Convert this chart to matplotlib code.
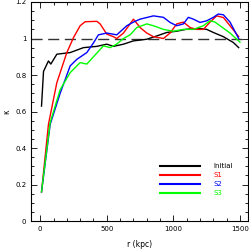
import matplotlib
matplotlib.use('Agg')
import matplotlib.pyplot as plt
from matplotlib.ticker import MultipleLocator

# radius (kpc) and kappa values
r_init = [10, 25, 62, 80, 125, 225, 325, 425, 500, 550, 625, 700, 800, 875, 950, 1025, 1100, 1200, 1250, 1300, 1375, 1450, 1490]
k_init = [0.63, 0.82, 0.877, 0.86, 0.914, 0.923, 0.95, 0.957, 0.969, 0.957, 0.969, 0.987, 0.996, 1.014, 1.033, 1.04, 1.051, 1.055, 1.05, 1.033, 1.01, 0.978, 0.95]

r_s1 = [10, 62, 125, 200, 250, 300, 337, 425, 450, 500, 550, 575, 625, 675, 700, 750, 800, 850, 925, 975, 1025, 1075, 1125, 1175, 1225, 1275, 1325, 1375, 1425, 1490]
k_s1 = [0.16, 0.53, 0.758, 0.923, 1.005, 1.07, 1.092, 1.094, 1.08, 1.024, 1.01, 1.0, 1.03, 1.08, 1.106, 1.06, 1.03, 1.01, 1.0, 1.03, 1.08, 1.09, 1.06, 1.05, 1.05, 1.09, 1.124, 1.115, 1.07, 1.01]

r_s2 = [10, 75, 150, 225, 275, 350, 400, 437, 500, 575, 650, 700, 750, 850, 925, 975, 1025, 1075, 1112, 1150, 1200, 1250, 1300, 1337, 1375, 1425, 1490]
k_s2 = [0.16, 0.53, 0.70, 0.85, 0.886, 0.923, 0.976, 1.02, 1.03, 1.02, 1.07, 1.09, 1.106, 1.124, 1.116, 1.088, 1.07, 1.08, 1.116, 1.106, 1.088, 1.097, 1.116, 1.134, 1.13, 1.09, 1.0]

r_s3 = [10, 75, 150, 225, 300, 350, 400, 475, 525, 575, 625, 675, 725, 800, 850, 925, 1000, 1075, 1150, 1225, 1275, 1312, 1350, 1425, 1500]
k_s3 = [0.16, 0.54, 0.72, 0.813, 0.868, 0.86, 0.9, 0.96, 0.95, 0.97, 1.0, 1.02, 1.06, 1.08, 1.07, 1.05, 1.04, 1.05, 1.05, 1.07, 1.097, 1.09, 1.07, 1.03, 0.98]

fig = plt.figure(figsize=(2.49, 2.49), dpi=100)
ax = fig.add_axes([0.125, 0.112, 0.871, 0.880])

ax.axhline(1.0, color='#333333', lw=1.0, ls=(0, (8, 4)))
ax.plot(r_init, k_init, color='black', lw=1.0)
ax.plot(r_s1, k_s1, color='#ff0000', lw=1.0)
ax.plot(r_s2, k_s2, color='#0000ff', lw=1.0)
ax.plot(r_s3, k_s3, color='#00ff00', lw=1.0)

# legend drawn by hand like the IDL style
labels = ['Initial', 'S1', 'S2', 'S3']
colors = ['black', '#ff0000', '#0000ff', '#00ff00']
for i in range(4):
    yy = 0.251 - i * 0.041
    ax.plot([0.594, 0.78], [yy, yy], transform=ax.transAxes, color=colors[i], lw=1.5)
    ax.text(0.84, yy, labels[i], transform=ax.transAxes, color=colors[i],
            fontsize=5, va='center', ha='left')

ax.set_xlim(-68, 1560)
ax.set_ylim(0, 1.2)
ax.set_xticks([0, 500, 1000, 1500])
ax.set_yticks([0, 0.2, 0.4, 0.6, 0.8, 1.0, 1.2])
ax.set_yticklabels(['0', '0.2', '0.4', '0.6', '0.8', '1', '1.2'])
ax.xaxis.set_minor_locator(MultipleLocator(100))
ax.yaxis.set_minor_locator(MultipleLocator(0.05))
ax.tick_params(which='both', direction='in', top=True, right=True, labelsize=5, width=0.6)
ax.tick_params(which='major', length=4)
ax.tick_params(which='minor', length=2)
for s in ax.spines.values():
    s.set_linewidth(0.8)

ax.set_xlabel('r (kpc)', fontsize=5.5, labelpad=6)
ax.set_ylabel('κ', fontsize=5.5, labelpad=3)

plt.savefig('out.png', dpi=100)
